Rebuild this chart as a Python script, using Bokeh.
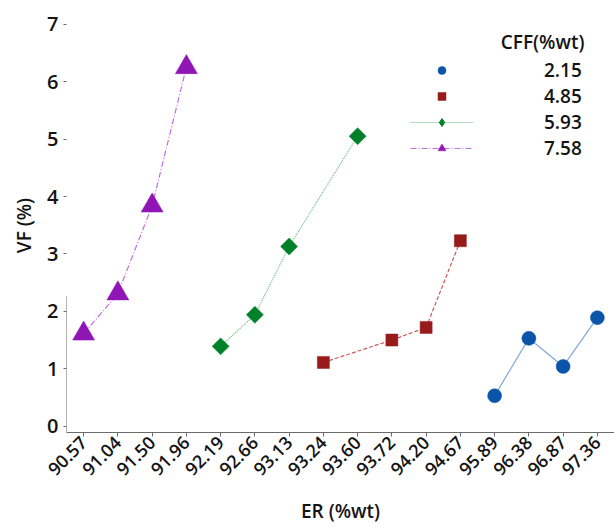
import math
from bokeh.plotting import figure
from bokeh.models import (ColumnDataSource, Legend, LegendItem, Label,
                          FixedTicker, Range1d, FactorRange)
from bokeh.embed import file_html
from bokeh.resources import INLINE

# ---------------- data ----------------
er_labels = ["90.57", "91.04", "91.50", "91.96", "92.19", "92.66", "93.13", "93.24",
             "93.60", "93.72", "94.20", "94.67", "95.89", "96.38", "96.87", "97.36"]
cff_labels = ["2.15", "4.85", "5.93", "7.58"]

er_215 = ["95.89", "96.38", "96.87", "97.36"]
vf_215 = [0.53, 1.53, 1.04, 1.89]
er_485 = ["93.24", "93.72", "94.20", "94.67"]
vf_485 = [1.11, 1.50, 1.72, 3.23]
er_593 = ["92.19", "92.66", "93.13", "93.60"]
vf_593 = [1.39, 1.94, 3.13, 5.05]
er_758 = ["90.57", "91.04", "91.50", "91.96"]
vf_758 = [1.61, 2.31, 3.84, 6.25]

y_ticks = [0, 1, 2, 3, 4, 5, 6, 7]

# ---------------- style ----------------
FONT = "'Open Sans SemiBold', 'Noto Sans SemiBold', 'Open Sans'"
FSTYLE = "normal"
TXT = "#141414"
AX = "#6b6b6b"
Y_MIN, Y_MAX = -0.11, 7.1
Y_AXIS_LINE_TOP = 2.26

p = figure(width=614, height=527,
           x_range=FactorRange(factors=er_labels),
           y_range=Range1d(Y_MIN, Y_MAX),
           output_backend="svg", toolbar_location=None,
           min_border_left=66, min_border_right=0,
           min_border_top=18, min_border_bottom=94)
p.outline_line_color = None
p.grid.visible = False
p.background_fill_color = "white"
p.border_fill_color = "white"

xa = p.xaxis[0]
xa.axis_label = "ER (%wt)"
xa.axis_label_text_font = FONT
xa.axis_label_text_font_size = "19px"
xa.axis_label_text_font_style = FSTYLE
xa.axis_label_text_color = TXT
xa.axis_label_standoff = 14
xa.axis_line_color = AX
xa.major_tick_line_color = AX
xa.major_tick_out = 4
xa.major_tick_in = 0
xa.minor_tick_line_color = None
xa.major_label_orientation = math.pi / 4
xa.major_label_text_font = FONT
xa.major_label_text_font_size = "18px"
xa.major_label_text_font_style = FSTYLE
xa.major_label_text_color = TXT
xa.major_label_standoff = 3

ya = p.yaxis[0]
ya.ticker = FixedTicker(ticks=y_ticks)
ya.axis_label = "VF (%)"
ya.axis_label_text_font = FONT
ya.axis_label_text_font_size = "19px"
ya.axis_label_text_font_style = FSTYLE
ya.axis_label_text_color = TXT
ya.axis_label_standoff = 7
ya.axis_line_color = None
ya.major_tick_line_color = AX
ya.major_tick_out = 3
ya.major_tick_in = 0
ya.minor_tick_line_color = None
ya.major_label_text_font = FONT
ya.major_label_text_font_size = "20px"
ya.major_label_text_font_style = FSTYLE
ya.major_label_text_color = TXT
ya.major_label_standoff = 5

# partial y-axis line (as in the reference)
p.segment(x0=[(er_labels[0], -0.5)], y0=[Y_MIN], x1=[(er_labels[0], -0.5)],
          y1=[Y_AXIS_LINE_TOP], line_color=AX, line_width=1)

series = [
    (er_215, vf_215, "#0a55a8", "#7faad8", "solid", "circle", 14, 0, "circle"),
    (er_485, vf_485, "#981b1b", "#cc5a5a", "4 2", "square", 12, 0, "square"),
    (er_593, vf_593, "#01802a", "#6dbb7e", "1 1", "square", 12, math.pi / 4, "diamond"),
    (er_758, vf_758, "#9015b5", "#c070e0", "6 2 1 2", "triangle", 22, 0, "triangle"),
]

items = []
for i, (xs, ys, mc, lc, dash, marker, size, ang, leg_marker) in enumerate(series):
    src = ColumnDataSource(dict(x=xs, y=ys))
    ln = p.line("x", "y", source=src, line_color=lc, line_width=1.2, line_dash=dash)
    leg_sc = None
    if leg_marker != marker:
        # key marker drawn underneath the (larger) rotated squares
        leg_sc = p.scatter("x", "y", source=src, marker=leg_marker, size=size,
                           fill_color=mc, line_color=mc)
    sc = p.scatter("x", "y", source=src, marker=marker, size=size, angle=ang,
                   fill_color=mc, line_color=mc, line_alpha=0.5)
    if leg_sc is None:
        leg_sc = sc
    if i < 2:
        items.append(LegendItem(label=cff_labels[i], renderers=[leg_sc]))
    else:
        items.append(LegendItem(label=cff_labels[i], renderers=[ln, leg_sc]))

legend = Legend(items=items, location=(344, 271),
                border_line_color=None, background_fill_alpha=0,
                padding=0, margin=0, spacing=0,
                glyph_width=63, glyph_height=20, label_standoff=71,
                label_text_font=FONT, label_text_font_size="19px",
                label_text_font_style=FSTYLE, label_text_color=TXT)
p.add_layout(legend)

title = Label(x=518, y=391, x_units="screen", y_units="screen",
              text="CFF(%wt)", text_align="right", text_baseline="middle",
              text_font=FONT, text_font_size="19px", text_font_style=FSTYLE,
              text_color=TXT)
p.add_layout(title)

open("out.html", "w").write(file_html(p, INLINE))
